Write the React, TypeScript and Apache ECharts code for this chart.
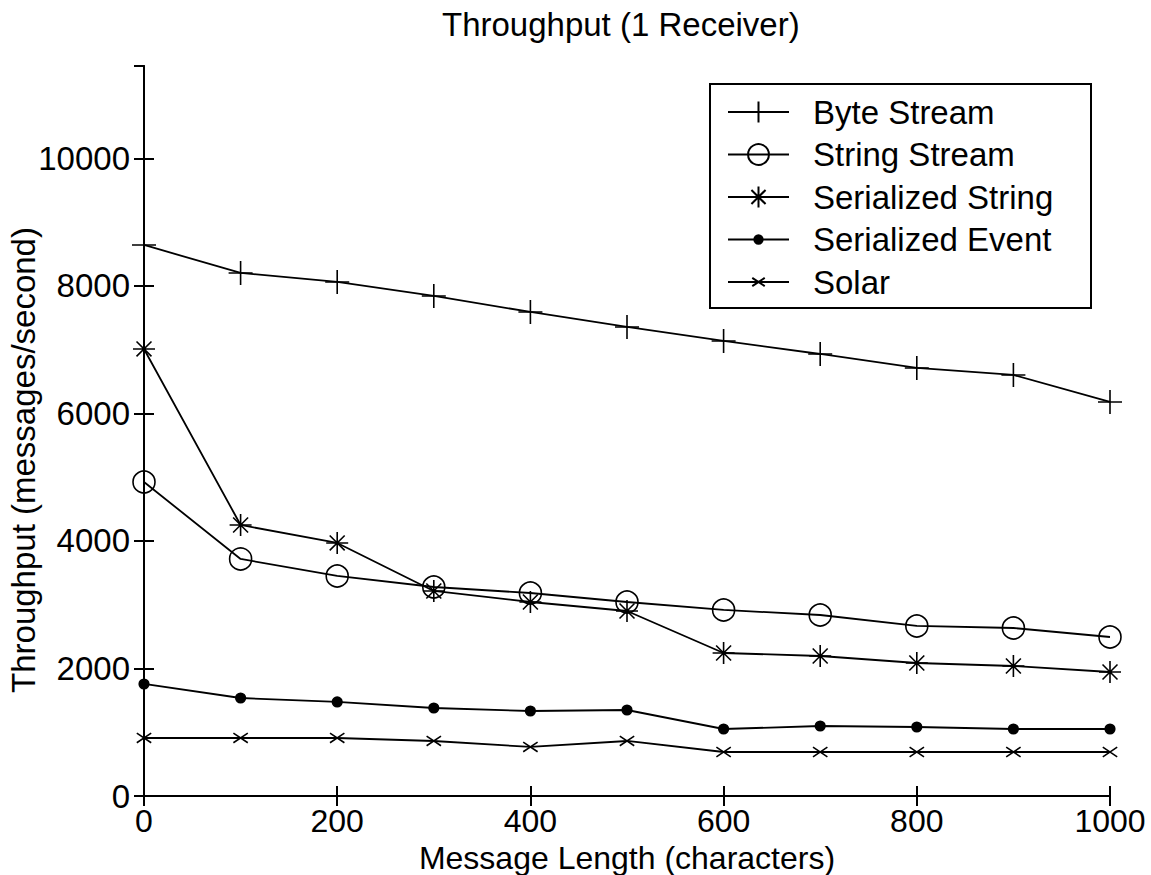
import React, { useEffect, useRef } from "react";
import * as echarts from "echarts";

const messageLengths = [0, 100, 200, 300, 400, 500, 600, 700, 800, 900, 1000];
const byteStream = [8643, 8204, 8063, 7843, 7592, 7357, 7137, 6933, 6714, 6604, 6180];
const stringStream = [4925, 3718, 3451, 3278, 3184, 3043, 2918, 2839, 2667, 2635, 2494];
const serializedString = [7012, 4251, 3969, 3216, 3043, 2902, 2243, 2196, 2086, 2039, 1945];
const serializedEvent = [1757, 1537, 1475, 1380, 1333, 1349, 1051, 1098, 1082, 1051, 1051];
const solar = [910, 910, 910, 863, 769, 863, 690, 690, 690, 690, 690];
const seriesNames = ["Byte Stream", "String Stream", "Serialized String", "Serialized Event", "Solar"];

const FONT = "'Liberation Sans', Arial, sans-serif";

const SYM_PLUS = "path://M5,0L5,10M0,5L10,5";
const SYM_STAR = "path://M5,0L5,10M0,5L10,5M1.6,1.6L8.4,8.4M8.4,1.6L1.6,8.4";
const SYM_DOT = "path://M0,0M10,10M3,5A2,2,0,1,1,7,5A2,2,0,1,1,3,5Z";
const SYM_X = "path://M0,0M10,10M2,3L8,7M8,3L2,7";

function pairs(vals: number[]) {
  return messageLengths.map((x, i) => [x, vals[i]]);
}

export default function App() {
  const ref = useRef<HTMLDivElement>(null);
  useEffect(() => {
    if (!ref.current) return;
    const chart = echarts.init(ref.current, undefined, { renderer: "svg" });
    const lineStyle = { color: "#000", width: 1.8 };
    const mk = (name: string, vals: number[], symbol: string, size: number, fill: string) => ({
      type: "line",
      name,
      data: pairs(vals),
      symbol,
      symbolSize: size,
      showAllSymbol: true,
      clip: false,
      lineStyle,
      itemStyle: { color: fill, borderColor: "#000", borderWidth: 1.6 },
      emphasis: { disabled: true },
    });
    const axisCommon = {
      axisLine: { show: true, lineStyle: { color: "#000", width: 2 } },
      axisTick: { show: true, inside: true, length: 10, lineStyle: { color: "#000", width: 2 } },
      splitLine: { show: false },
    };
    chart.setOption({
      animation: false,
      backgroundColor: "#fff",
      title: {
        text: "Throughput (1 Receiver)",
        left: 442,
        top: 8,
        padding: 0,
        textStyle: { fontFamily: FONT, fontSize: 33, fontWeight: "normal", color: "#000" },
      },
      grid: { left: 144, right: 41, top: 66, bottom: 79, containLabel: false, outerBoundsMode: "none" },
      legend: {
        orient: "vertical",
        left: 727,
        top: 95,
        padding: 0,
        itemWidth: 61,
        itemHeight: 26,
        itemGap: 8.5,
        selectedMode: false,
        data: seriesNames,
        textStyle: { fontFamily: FONT, fontSize: 33, color: "#000", lineHeight: 34, padding: [0, 0, 0, 19] },
      },
      xAxis: [
        {
          type: "value",
          min: 0,
          max: 1000,
          interval: 200,
          position: "bottom",
          name: "Message Length (characters)",
          nameLocation: "middle",
          nameGap: 48,
          nameMoveOverlap: false,
          nameTextStyle: { fontFamily: FONT, fontSize: 32, color: "#000", lineHeight: 28 },
          axisLabel: {
            fontFamily: FONT,
            fontSize: 32,
            color: "#000",
            margin: 11,
            lineHeight: 28,
            formatter: (v: number) => String(v),
          },
          ...axisCommon,
        },
        {
          type: "value",
          min: 0,
          max: 1000,
          interval: 200,
          position: "top",
          axisLabel: { show: false },
          ...axisCommon,
        },
      ],
      yAxis: [
        {
          type: "value",
          min: 0,
          max: 11450,
          interval: 2000,
          position: "left",
          name: "Throughput (messages/second)",
          nameLocation: "middle",
          nameGap: 104,
          nameMoveOverlap: false,
          nameTextStyle: { fontFamily: FONT, fontSize: 33, color: "#000", padding: [0, 58, 0, 0] },
          axisLabel: {
            fontFamily: FONT,
            fontSize: 33,
            color: "#000",
            margin: 14,
            showMaxLabel: false,
            formatter: (v: number) => (v % 2000 === 0 ? String(v) : ""),
          },
          ...axisCommon,
        },
        {
          type: "value",
          min: 0,
          max: 11450,
          interval: 2000,
          position: "right",
          axisLabel: { show: false },
          ...axisCommon,
        },
      ],
      graphic: [
        {
          type: "rect",
          shape: { x: 710, y: 84, width: 381, height: 224 },
          style: { fill: "transparent", stroke: "#000", lineWidth: 2 },
          z: 10,
        },
      ],
      series: [
        mk(seriesNames[0], byteStream, SYM_PLUS, 24, "#000"),
        mk(seriesNames[1], stringStream, "circle", 22, "rgba(0,0,0,0)"),
        mk(seriesNames[2], serializedString, SYM_STAR, 22, "#000"),
        mk(seriesNames[3], serializedEvent, SYM_DOT, 24, "#000"),
        mk(seriesNames[4], solar, SYM_X, 24, "#000"),
      ],
    });
    return () => chart.dispose();
  }, []);
  return (
    <div
      ref={ref}
      style={{ position: "fixed", left: 0, top: 0, width: 1151, height: 875, background: "#fff" }}
    />
  );
}
